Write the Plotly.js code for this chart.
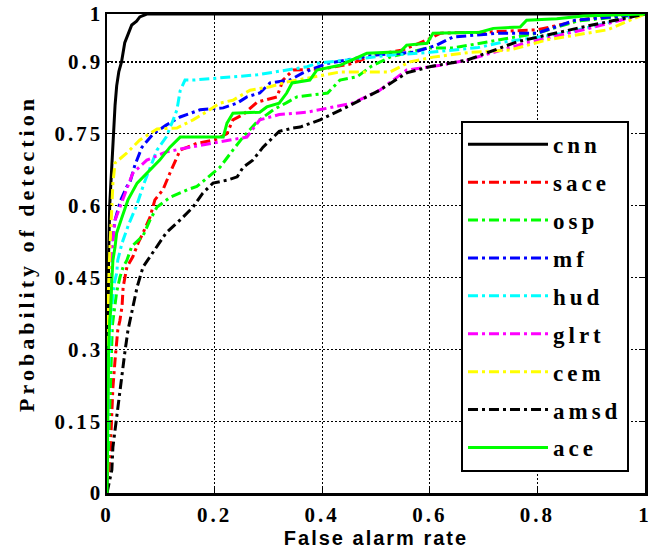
<!DOCTYPE html>
<html>
<head>
<meta charset="utf-8">
<script src="https://cdn.plot.ly/plotly-3.0.1.min.js"></script>
<style>
  html, body { margin: 0; padding: 0; background: #fff; }
  #chart { width: 659px; height: 557px; }
  .legendtext { letter-spacing: 4px; }
  .ytitle { letter-spacing: 4px; }
  .xtitle { letter-spacing: 2px; }
  .ytick text, .xtick text { letter-spacing: 3px; }
</style>
</head>
<body>
<div id="chart"></div>
<script>
const seriesNames = ["cnn", "sace", "osp", "mf", "hud", "glrt", "cem", "amsd", "ace"];
const seriesColors = ["#000000", "#ff0000", "#00ff00", "#0000ff", "#00ffff", "#ff00ff", "#ffff00", "#000000", "#00ff00"];

const xTickVals = [0, 0.2, 0.4, 0.6, 0.8, 1];
const xTickText = ["0", "0.2", "0.4", "0.6", "0.8", "1"];
const yTickVals = [0, 0.15, 0.3, 0.45, 0.6, 0.75, 0.9, 1];
const yTickText = ["0", "0.15", "0.3", "0.45", "0.6", "0.75", "0.9", "1"];

const cnnX = [0, 0.001, 0.003, 0.005, 0.007, 0.009, 0.012, 0.015, 0.018, 0.022, 0.027, 0.033, 0.04, 0.046, 0.055, 0.061, 0.074, 1];
const cnnY = [0, 0.3, 0.5, 0.6, 0.64, 0.68, 0.76, 0.81, 0.85, 0.88, 0.9, 0.94, 0.96, 0.977, 0.985, 0.994, 1, 1];

const saceX = [0, 0.006, 0.009, 0.011, 0.015, 0.02, 0.024, 0.028, 0.03, 0.037, 0.048, 0.058, 0.067, 0.08, 0.089, 0.104, 0.117, 0.13, 0.136, 0.167, 0.2, 0.223, 0.234, 0.253, 0.279, 0.316, 0.327, 0.346, 0.4, 0.45, 0.5, 0.55, 0.595, 0.62, 0.7, 0.8, 0.91, 1];
const saceY = [0, 0.083, 0.167, 0.22, 0.278, 0.34, 0.36, 0.39, 0.43, 0.472, 0.493, 0.522, 0.543, 0.576, 0.612, 0.633, 0.668, 0.70, 0.716, 0.73, 0.737, 0.75, 0.779, 0.79, 0.816, 0.827, 0.862, 0.883, 0.885, 0.895, 0.915, 0.925, 0.946, 0.96, 0.962, 0.967, 0.994, 1];

const ospX = [0, 0.005, 0.01, 0.018, 0.024, 0.03, 0.037, 0.046, 0.067, 0.08, 0.093, 0.117, 0.149, 0.167, 0.197, 0.21, 0.234, 0.253, 0.279, 0.309, 0.334, 0.353, 0.41, 0.433, 0.465, 0.49, 0.526, 0.595, 0.643, 0.7, 0.8, 0.873, 1];
const ospY = [0, 0.2, 0.35, 0.42, 0.45, 0.472, 0.486, 0.515, 0.537, 0.57, 0.597, 0.617, 0.633, 0.64, 0.668, 0.68, 0.716, 0.743, 0.775, 0.80, 0.815, 0.827, 0.835, 0.862, 0.869, 0.89, 0.91, 0.929, 0.929, 0.94, 0.96, 0.985, 1];

const mfX = [0, 0.002, 0.004, 0.008, 0.015, 0.025, 0.037, 0.043, 0.052, 0.065, 0.086, 0.11, 0.136, 0.173, 0.216, 0.242, 0.26, 0.284, 0.303, 0.34, 0.364, 0.377, 0.41, 0.495, 0.57, 0.613, 0.643, 0.73, 0.8, 0.87, 1];
const mfY = [0, 0.3, 0.45, 0.52, 0.57, 0.61, 0.64, 0.65, 0.685, 0.722, 0.75, 0.768, 0.785, 0.80, 0.804, 0.814, 0.827, 0.835, 0.856, 0.862, 0.877, 0.883, 0.897, 0.914, 0.92, 0.935, 0.952, 0.96, 0.96, 0.987, 1];

const hudX = [0, 0.003, 0.008, 0.014, 0.018, 0.02, 0.028, 0.04, 0.055, 0.07, 0.093, 0.11, 0.123, 0.13, 0.136, 0.145, 0.16, 0.279, 0.372, 0.39, 0.526, 0.6, 0.69, 0.73, 0.85, 0.95, 1];
const hudY = [0, 0.25, 0.38, 0.44, 0.459, 0.486, 0.522, 0.56, 0.6, 0.65, 0.716, 0.743, 0.779, 0.80, 0.84, 0.862, 0.862, 0.873, 0.89, 0.897, 0.914, 0.92, 0.93, 0.94, 0.96, 0.987, 1];

const glrtX = [0, 0.003, 0.006, 0.011, 0.015, 0.024, 0.037, 0.048, 0.074, 0.11, 0.154, 0.197, 0.234, 0.26, 0.284, 0.32, 0.372, 0.396, 0.457, 0.507, 0.557, 0.62, 0.67, 0.78, 0.885, 1];
const glrtY = [0, 0.35, 0.48, 0.522, 0.57, 0.597, 0.633, 0.668, 0.695, 0.712, 0.722, 0.73, 0.737, 0.743, 0.779, 0.79, 0.795, 0.80, 0.814, 0.841, 0.883, 0.893, 0.904, 0.94, 0.967, 1];

const cemX = [0, 0.002, 0.005, 0.009, 0.011, 0.015, 0.037, 0.061, 0.093, 0.13, 0.16, 0.191, 0.21, 0.234, 0.266, 0.303, 0.334, 0.433, 0.526, 0.563, 0.606, 0.675, 0.75, 0.818, 0.93, 1];
const cemY = [0, 0.4, 0.5, 0.597, 0.647, 0.689, 0.71, 0.737, 0.76, 0.762, 0.779, 0.80, 0.814, 0.82, 0.841, 0.848, 0.858, 0.879, 0.879, 0.90, 0.91, 0.92, 0.925, 0.946, 0.967, 1];

const amsdX = [0, 0.009, 0.011, 0.018, 0.024, 0.03, 0.033, 0.039, 0.048, 0.056, 0.067, 0.08, 0.093, 0.11, 0.136, 0.16, 0.178, 0.197, 0.223, 0.242, 0.253, 0.271, 0.29, 0.32, 0.346, 0.359, 0.396, 0.446, 0.507, 0.557, 0.6, 0.67, 0.762, 0.885, 1];
const amsdY = [0, 0.048, 0.096, 0.159, 0.222, 0.27, 0.292, 0.34, 0.388, 0.43, 0.472, 0.493, 0.514, 0.543, 0.57, 0.597, 0.626, 0.647, 0.653, 0.66, 0.68, 0.695, 0.722, 0.755, 0.762, 0.764, 0.779, 0.806, 0.841, 0.877, 0.89, 0.904, 0.942, 0.973, 1];

const aceX = [0, 0.003, 0.005, 0.007, 0.009, 0.011, 0.015, 0.018, 0.028, 0.039, 0.056, 0.074, 0.098, 0.117, 0.136, 0.216, 0.223, 0.234, 0.284, 0.297, 0.32, 0.334, 0.344, 0.377, 0.39, 0.433, 0.483, 0.545, 0.557, 0.595, 0.606, 0.693, 0.718, 0.768, 0.78, 0.836, 0.885, 1];
const aceY = [0, 0.3, 0.36, 0.382, 0.445, 0.486, 0.514, 0.543, 0.576, 0.612, 0.647, 0.668, 0.695, 0.722, 0.743, 0.743, 0.772, 0.793, 0.795, 0.806, 0.814, 0.835, 0.856, 0.862, 0.883, 0.893, 0.918, 0.921, 0.935, 0.939, 0.96, 0.962, 0.97, 0.973, 0.987, 0.99, 0.996, 1];

const xs = [cnnX, saceX, ospX, mfX, hudX, glrtX, cemX, amsdX, aceX];
const ys = [cnnY, saceY, ospY, mfY, hudY, glrtY, cemY, amsdY, aceY];
const solid = { cnn: true, ace: true };

const dashDot = "10px,4px,3px,4px";
const traces = seriesNames.map((name, i) => ({
  type: "scatter",
  mode: "lines",
  name: name,
  legendgroup: name,
  x: xs[i],
  y: ys[i],
  line: {
    color: seriesColors[i],
    width: 3,
    dash: solid[name] ? "solid" : dashDot
  },
  hoverinfo: "skip"
}));

const tickFont = { family: "Liberation Serif, serif", size: 21, color: "#000", weight: "bold" };

const layout = {
  width: 659,
  height: 557,
  margin: { l: 107, r: 14, t: 14, b: 64 },
  paper_bgcolor: "#fff",
  plot_bgcolor: "#fff",
  showlegend: true,
  xaxis: {
    range: [0, 1],
    tickmode: "array",
    tickvals: xTickVals,
    ticktext: xTickText,
    tickfont: tickFont,
    showline: true, mirror: "ticks", linecolor: "#000", linewidth: 2.5,
    ticks: "inside", ticklen: 5, tickcolor: "#000", tickwidth: 1,
    showgrid: true, gridcolor: "#000", gridwidth: 1.2, griddash: "2px,2px",
    zeroline: false,
    ticklabelstandoff: 1,
    title: { text: "False alarm rate", font: { family: "Liberation Sans, Arial, sans-serif", size: 20, color: "#000", weight: "bold" }, standoff: 3 }
  },
  yaxis: {
    range: [0, 1],
    tickmode: "array",
    tickvals: yTickVals,
    ticktext: yTickText,
    tickfont: tickFont,
    showline: true, mirror: "ticks", linecolor: "#000", linewidth: 2.5,
    ticks: "inside", ticklen: 5, tickcolor: "#000", tickwidth: 1,
    showgrid: true, gridcolor: "#000", gridwidth: 1.2, griddash: "2px,2px",
    zeroline: false,
    ticklabelstandoff: -3,
    title: { text: "Probability of detection", font: { family: "Liberation Serif, serif", size: 22, color: "#000", weight: "bold" }, standoff: 14 }
  },
  legend: {
    x: 0.658, y: 0.777, xanchor: "left", yanchor: "top",
    bgcolor: "#fff", bordercolor: "#000", borderwidth: 2,
    font: { family: "Liberation Serif, serif", size: 23, color: "#000", weight: "bold" },
    itemwidth: 80,
    traceorder: "grouped",
    tracegroupgap: 5
  }
};

Plotly.newPlot("chart", traces, layout, { staticPlot: true, displayModeBar: false });
</script>
</body>
</html>
